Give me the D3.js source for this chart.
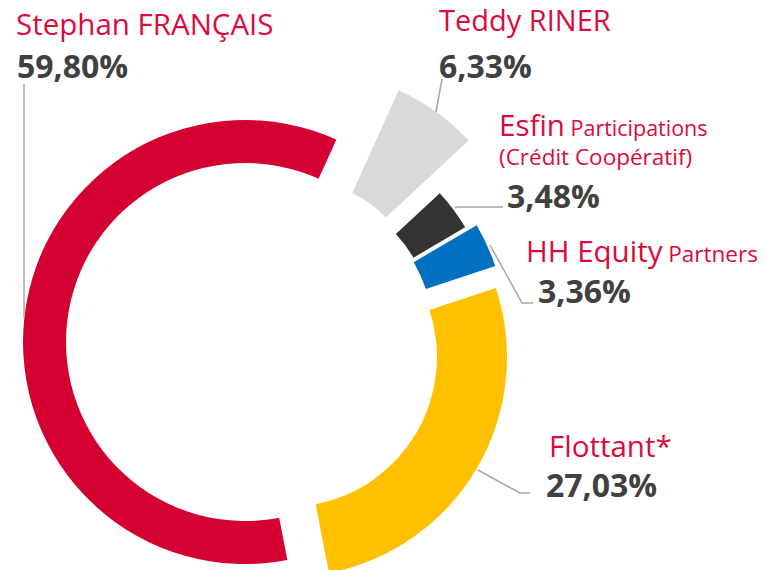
<!DOCTYPE html>
<html>
<head>
<meta charset="utf-8">
<script src="https://cdn.jsdelivr.net/npm/d3@7"></script>
<style>
  body { margin: 0; background: #fff; }
  text { font-family: "Open Sans", "Noto Sans", sans-serif; }
</style>
</head>
<body>
<svg id="chart" width="767" height="570"></svg>
<script>
// shareholders, clockwise starting with the big red slice
let names = ["Stephan FRANÇAIS", "Teddy RINER", "Esfin Participations (Crédit Coopératif)", "HH Equity Partners", "Flottant*"];
let shares = [59.80, 6.33, 3.48, 3.36, 27.03];
let shareLabels = ["59,80%", "6,33%", "3,48%", "3,36%", "27,03%"];

let colors = ["#d50032", "#d9d9d9", "#333333", "#0070c0", "#ffc000"];
let textRed = "#dc0a3c", textGrey = "#404040", lineGrey = "#a6a6a6";

// each slice is pulled out a bit and has its own thickness
let sliceLayout = [
  {cx: 245, cy: 342, r0: 179, r1: 222},
  {cx: 309, cy: 289, r0: 105, r1: 218},
  {cx: 297, cy: 326, r0: 135, r1: 195},
  {cx: 293, cy: 333, r0: 140, r1: 213},
  {cx: 287, cy: 357, r0: 150, r1: 220}
];

let svg = d3.select("#chart");

let pie = d3.pie()
  .sort(null)
  .value(d => d)
  .startAngle(169 * Math.PI / 180)
  .endAngle(169 * Math.PI / 180 + 2 * Math.PI);

let arcs = pie(shares);

svg.append("g")
  .selectAll("path")
  .data(arcs)
  .join("path")
  .attr("transform", (d, i) => `translate(${sliceLayout[i].cx},${sliceLayout[i].cy})`)
  .attr("d", (d, i) => d3.arc().innerRadius(sliceLayout[i].r0).outerRadius(sliceLayout[i].r1)(d))
  .attr("fill", (d, i) => colors[i]);

// leader lines
let leaders = [
  [[24, 84], [24, 318]],
  [[442, 79], [436, 112]],
  [[455, 207], [503, 207]],
  [[490, 245], [522, 303], [533, 303]],
  [[478, 470], [520, 493], [530, 493]]
];
svg.append("g")
  .selectAll("path")
  .data(leaders)
  .join("path")
  .attr("d", d3.line())
  .attr("fill", "none")
  .attr("stroke", lineGrey)
  .attr("stroke-width", 1.5);

// labels: name parts [text, size], then percent
function addName(x, y, parts) {
  let t = svg.append("text").attr("x", x).attr("y", y).attr("fill", textRed);
  parts.forEach(p => t.append("tspan").attr("font-size", p[1]).text(p[0]));
}
function addPct(x, y, i) {
  svg.append("text")
    .attr("x", x).attr("y", y)
    .attr("fill", textGrey)
    .attr("font-weight", "bold")
    .attr("font-size", 32)
    .text(shareLabels[i]);
}

addName(16, 35, [["Stephan FRANÇAIS", 29.5]]);
addPct(17, 78, 0);

addName(439, 31, [["Teddy RINER", 29]]);
addPct(439, 78, 1);

addName(499, 136, [["Esfin", 29.5], [" Participations", 21.5]]);
addName(499, 165, [["(Crédit Coopératif)", 22.5]]);
addPct(507, 208, 2);

addName(526, 262, [["HH Equity", 29.5], [" Partners", 22.5]]);
addPct(538, 303, 3);

addName(549, 457, [["Flottant*", 29.5]]);
addPct(546, 497, 4);
</script>
</body>
</html>
